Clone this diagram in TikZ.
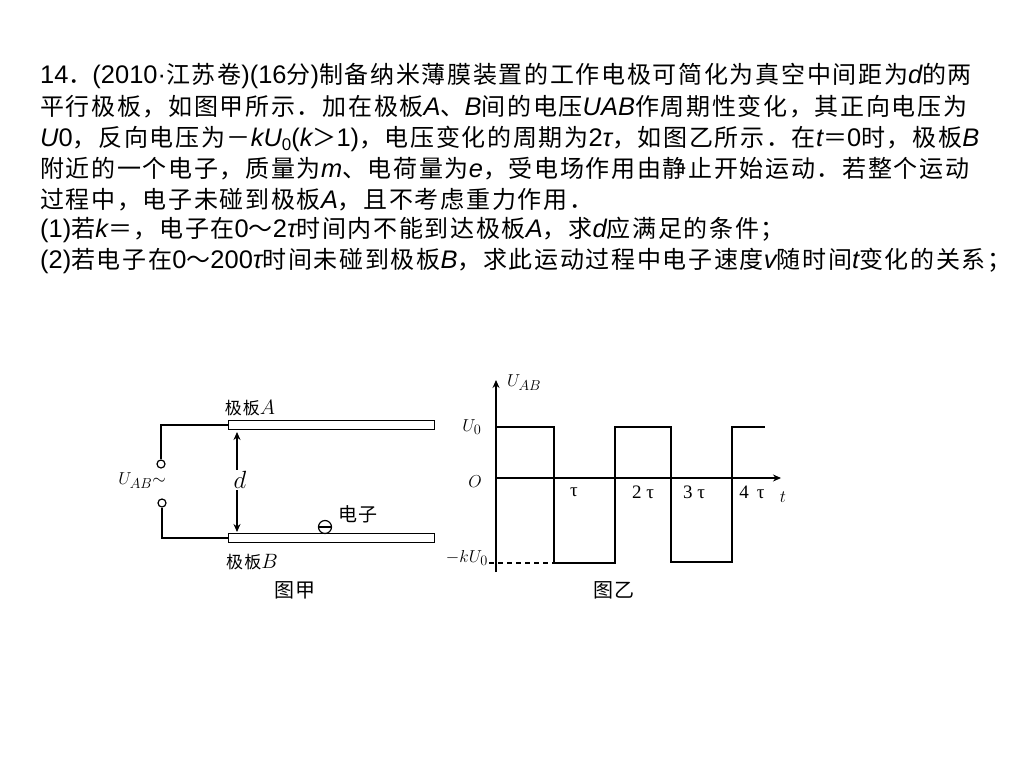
\documentclass[tikz,border=0pt]{standalone}
\usepackage[no-math]{fontspec}
\usetikzlibrary{arrows.meta}
\setmainfont{Noto Sans CJK SC}[LetterSpace=7]
\newfontfamily\latfont{Liberation Sans}[Scale=1.06]
\newfontfamily\serfont{Liberation Serif}
\newcommand{\la}[1]{{\latfont #1}}
\newcommand{\lai}[1]{{\latfont\itshape #1}}
\tikzset{
    textline/.style={anchor=base west,inner sep=0pt,font=\fontsize{24}{28}\selectfont},
    plate/.style={draw,line width=1.2pt,minimum width=206pt,minimum height=8.6pt,inner sep=0pt,anchor=west},
    terminal/.style={draw,circle,line width=1.2pt,minimum size=8pt,inner sep=0pt},
    wire/.style={line width=1.2pt},
    label/.style={inner sep=0pt,font=\fontsize{17}{18}\selectfont},
    mathlabel/.style={inner sep=0pt,font=\fontsize{19}{20}\selectfont},
    taulabel/.style={inner sep=0pt,font=\fontsize{19}{20}\serfont},
    caption/.style={inner sep=0pt,font=\fontsize{20}{22}\selectfont},
}
\begin{document}
\begin{tikzpicture}[x=1pt,y=-1pt]
    \useasboundingbox (0,0) rectangle (1024,768);

    % place text lines
    \node[textline] at (40,83)  (line1) {\la{14}．\la{(2010·}江苏卷\la{)(16}分\la{)}制备纳米薄膜装置的工作电极可简化为真空中间距为\lai{d}的两};
    \node[textline] at (40,115) (line2) {平行极板，如图甲所示．加在极板\lai{A}、\lai{B}间的电压\lai{UAB}作周期性变化，其正向电压为};
    \node[textline] at (40,146) (line3) {\lai{U}\la{0}，反向电压为－\lai{kU}\raisebox{-4pt}{\la{\fontsize{16}{18}\selectfont 0}}\la{(}\lai{k}＞\la{1)}，电压变化的周期为\la{2}\lai{τ}，如图乙所示．在\lai{t}＝\la{0}时，极板\lai{B}};
    \node[textline] at (40,177) (line4) {附近的一个电子，质量为\lai{m}、电荷量为\lai{e}，受电场作用由静止开始运动．若整个运动};
    \node[textline] at (40,208) (line5) {过程中，电子未碰到极板\lai{A}，且不考虑重力作用．};
    \node[textline] at (40,237) (line6) {\la{(1)}若\lai{k}＝，电子在\la{0}～\la{2}\lai{τ}时间内不能到达极板\lai{A}，求\lai{d}应满足的条件；};
    \node[textline] at (40,268) (line7) {\la{(2)}若电子在\la{0}～\la{200}\lai{τ}时间未碰到极板\lai{B}，求此运动过程中电子速度\lai{v}随时间\lai{t}变化的关系；};

    % place plates
    \node[plate] at (228,425)   (plateA) {};
    \node[plate] at (228,538)   (plateB) {};
    \node[terminal] at (161,464) (termA) {};
    \node[terminal] at (162,503) (termB) {};
    \node[draw,circle,line width=1.2pt,minimum size=13pt,inner sep=0pt] at (325,527) (electron) {};

    \coordinate (gapA) at (237,432);
    \coordinate (gapB) at (237,532);

    \node[label] at (250,408)     (labelA) {极板\fontsize{21}{22}\selectfont$A$};
    \node[label] at (252,562)     (labelB) {极板\fontsize{21}{22}\selectfont$B$};
    \node[label,font=\fontsize{19}{20}\selectfont] at (358,514) (labelE) {电子};
    \node[mathlabel] at (142,481) (source) {$U_{AB}{\sim}$};
    \node[caption] at (295,590)   (figA) {图甲};

    % draw edges
    \draw[wire] (plateA.west) -| (termA.north);
    \draw[wire] (plateB.west) -| (termB.south);
    \draw[wire,{Stealth[length=8pt,width=7pt]}-{Stealth[length=8pt,width=7pt]}] (gapA) -- (gapB);
    \draw[wire] (electron.west) -- (electron.east);
    \node[fill=white,inner sep=1pt,font=\fontsize{24}{26}\selectfont] at (240,480) (gap) {$d$};

    % place axes
    \coordinate (origin) at (496,478);
    \coordinate (ybottom) at (496,572);
    \coordinate (ytop) at (496,380);
    \coordinate (xend) at (781,478);

    \node[mathlabel] at (524,383)    (uab) {$U_{AB}$};
    \node[mathlabel] at (472,427)    (uzero) {$U_0$};
    \node[mathlabel] at (475,482)    (o) {$O$};
    \node[mathlabel,anchor=east] at (488,558) (kuzero) {$-kU_0$};
    \node[mathlabel] at (783,497)    (t) {$t$};
    \node[taulabel] at (574,492) (tau1) {τ};
    \node[taulabel] at (643,492) (tau2) {2 τ};
    \node[taulabel] at (694,492) (tau3) {3 τ};
    \node[taulabel] at (752,492) (tau4) {4 \,τ};
    \node[caption] at (614,590)      (figB) {图乙};

    % draw axes and voltage
    \draw[wire,-{Stealth[length=8pt,width=7pt]}] (ybottom) -- (ytop);
    \draw[wire,-{Stealth[length=8pt,width=7pt]}] (origin) -- (xend);
    \draw[wire] (496,427) -- (554,427) -- (554,563) -- (615,563) -- (615,427) -- (671,427)
        -- (671,562) -- (732,562) -- (732,427) -- (765,427);
    \draw[wire,dash pattern=on 5pt off 4pt] (489,563) -- (554,563);
\end{tikzpicture}
\end{document}
